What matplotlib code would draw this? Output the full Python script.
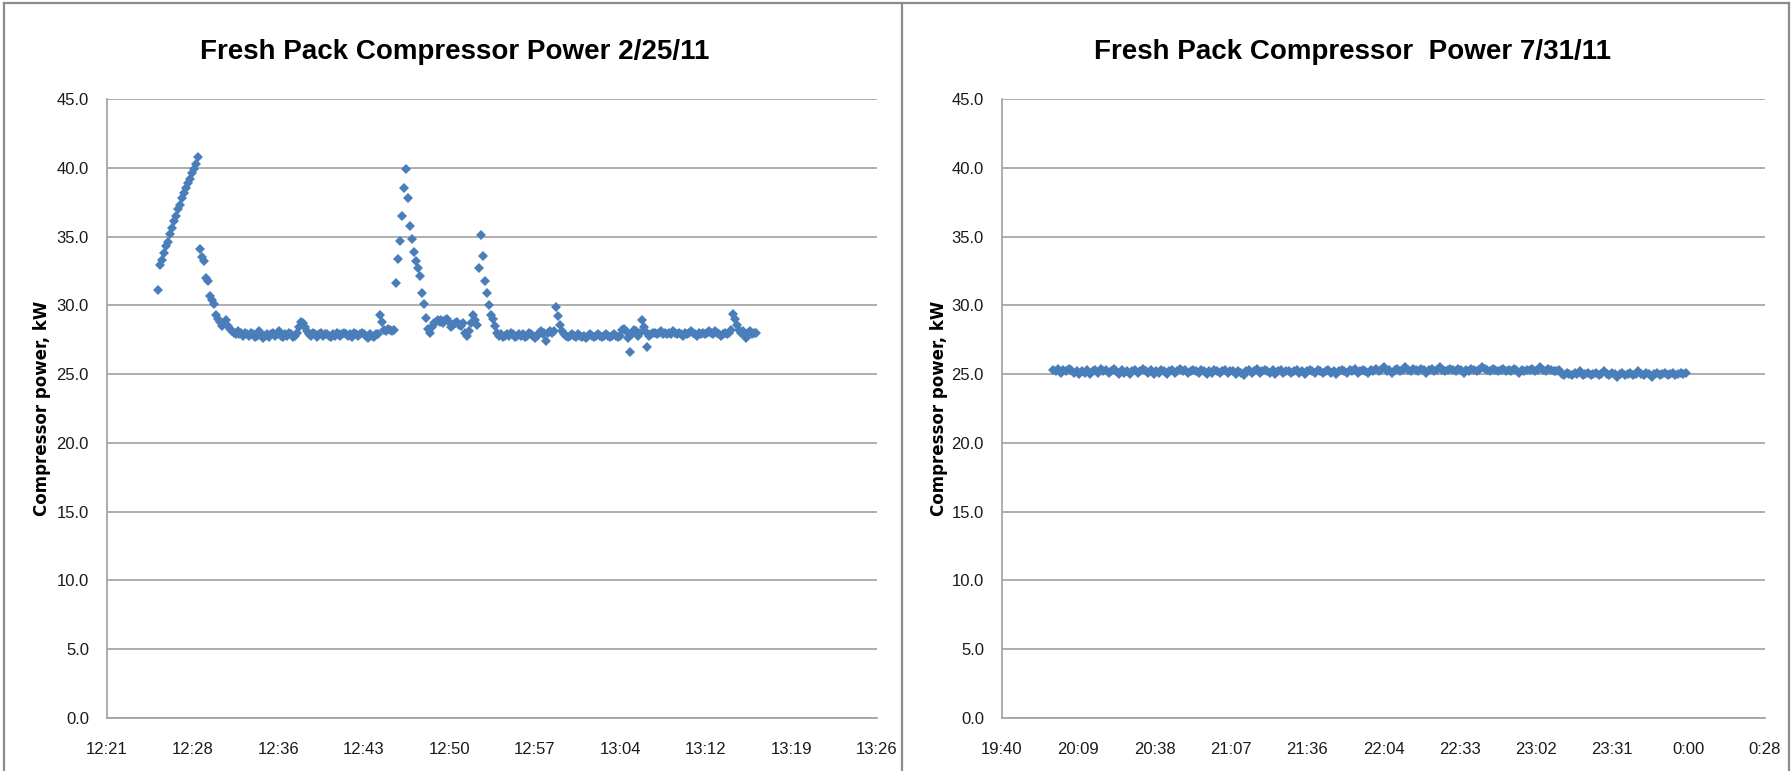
import matplotlib
matplotlib.use("Agg")
import matplotlib.pyplot as plt
from matplotlib import font_manager
from matplotlib.lines import Line2D
import numpy as np

# ---------------- data ----------------
left_title = "Fresh Pack Compressor Power 2/25/11"
right_title = "Fresh Pack Compressor  Power 7/31/11"
ylabel = "Compressor power, kW"

y_ticks = [0, 5, 10, 15, 20, 25, 30, 35, 40, 45]

left_xticks = [0.515, 0.520, 0.525, 0.530, 0.535, 0.540, 0.545, 0.550, 0.555, 0.560]
left_xlabels = ["12:21", "12:28", "12:36", "12:43", "12:50", "12:57",
                "13:04", "13:12", "13:19", "13:26"]
right_xticks = [0.82, 0.84, 0.86, 0.88, 0.90, 0.92, 0.94, 0.96, 0.98, 1.00, 1.02]
right_xlabels = ["19:40", "20:09", "20:38", "21:07", "21:36", "22:04",
                 "22:33", "23:02", "23:31", "0:00", "0:28"]

# Left series: 10-second samples starting 12:25:55
left_start_sec = 12 * 3600 + 25 * 60 + 55
left_step_sec = 10
left_kw = [
    31.1,
    32.9, 33.3, 33.8, 34.3, 34.6, 35.2, 35.6, 36.1, 36.5, 37.0,
    37.3, 37.8, 38.2, 38.5, 38.9, 39.2, 39.6, 39.9, 40.3, 40.8,
    34.1, 33.5, 33.2, 32.0, 31.8, 30.7, 30.4, 30.1, 29.3, 29.0,
    28.8, 28.5, 28.7, 28.9, 28.5, 28.3,
    28.1, 28.0, 27.9, 28.1, 27.9, 28.0, 27.8, 28.0, 27.9, 27.8,
    28.0, 27.9, 27.7, 27.8, 28.1, 27.9, 27.6, 27.8, 27.9, 27.7,
    27.9, 28.0, 27.8, 27.9, 28.1, 27.8, 27.7, 27.9, 27.8, 28.0,
    27.9, 27.7, 27.8, 28.0,
    28.4, 28.8, 28.7, 28.4, 28.1,
    27.9, 27.8, 28.0, 27.9, 27.7, 27.9, 28.0, 27.8, 27.9, 27.9,
    27.8, 27.7, 27.9, 27.8, 28.0, 27.9, 27.8, 27.9, 28.0, 27.9,
    27.8, 27.9, 27.7, 28.0, 27.9, 27.8, 27.9, 28.0, 27.9, 27.8,
    27.6, 27.9, 27.8, 27.7, 27.9,
    27.9, 29.3, 28.8, 28.2, 28.1, 28.3, 28.2, 28.1, 28.2,
    31.6, 33.4, 34.7, 36.5, 38.5, 39.9, 37.8, 35.8, 34.8, 33.9,
    33.2, 32.7, 32.1, 30.9, 30.1, 29.1, 28.3, 28.0,
    28.4, 28.7, 28.8, 28.9, 28.8, 28.9, 28.7, 28.9, 29.0, 28.8,
    28.4, 28.6, 28.7, 28.8, 28.6, 28.5, 28.7, 28.0, 27.8, 28.1,
    28.7, 29.3, 28.9, 28.6,
    32.7, 35.1, 33.6, 31.8, 30.9, 30.0, 29.3, 29.0, 28.5, 28.0,
    27.8, 27.9, 27.7, 27.8, 27.9, 27.8, 28.0, 27.9, 27.7, 27.8,
    27.9, 27.8, 27.9, 27.7, 27.8, 28.0, 27.9, 27.8, 27.6, 27.8,
    28.0, 28.1, 27.9, 28.0,
    27.4, 28.0, 28.1, 28.0, 28.1, 29.9, 29.2, 28.6, 28.1, 27.9,
    27.8, 27.7, 27.8, 27.9, 27.8, 27.7, 27.9, 27.8, 27.7, 27.8,
    27.6, 27.8, 27.9, 27.8, 27.7, 27.8, 27.9, 27.8, 27.7, 27.8,
    27.9, 27.8, 27.7, 27.8, 27.9, 27.8, 27.7, 27.8,
    28.2, 28.3, 28.1, 27.6, 26.6, 27.9, 28.2, 28.1, 27.8, 28.0,
    28.9, 28.4, 28.1, 27.0, 27.8, 27.9, 28.0,
    28.0, 27.9, 28.0, 28.1, 27.9, 28.0, 27.9, 28.0, 27.9, 28.1,
    28.0, 27.9, 28.0, 27.9, 27.8, 28.0, 27.9, 28.0, 28.1, 28.0,
    27.9, 27.8, 28.0, 27.9, 28.0, 27.9, 28.0, 28.1, 28.0, 27.9,
    28.1, 28.0, 27.9, 27.8, 27.9, 28.0, 27.9, 28.0,
    28.2, 29.4, 29.0, 28.6, 28.2, 28.0, 28.1, 27.9, 27.6, 28.0,
    28.1, 27.9, 28.0, 28.0,
]

# Right series: 1-minute samples starting 20:00
right_start_sec = 20 * 3600
right_step_sec = 60
right_kw = [
    25.3, 25.2, 25.4, 25.1, 25.3, 25.2, 25.4, 25.3, 25.1, 25.2,
    25.0, 25.2, 25.1, 25.3, 25.0, 25.2, 25.3, 25.1, 25.4, 25.2,
    25.3, 25.1, 25.2, 25.4, 25.2, 25.0, 25.3, 25.1, 25.2, 25.0,
    25.2, 25.3, 25.1, 25.2, 25.4, 25.2, 25.1, 25.3, 25.0, 25.2,
    25.1, 25.3, 25.2, 25.0, 25.2, 25.3, 25.1, 25.2, 25.4, 25.2,
    25.3, 25.1, 25.2, 25.3, 25.2, 25.1, 25.3, 25.2, 25.0, 25.2,
    25.1, 25.3, 25.2, 25.1, 25.2, 25.3, 25.1, 25.2, 25.2, 25.0,
    25.2, 25.1, 24.9, 25.2, 25.3, 25.1, 25.2, 25.4, 25.1, 25.2,
    25.3, 25.2, 25.1, 25.3, 25.0, 25.2, 25.3, 25.1, 25.2, 25.2,
    25.1, 25.2, 25.3, 25.1, 25.2, 25.0, 25.2, 25.3, 25.2, 25.1,
    25.3, 25.2, 25.1, 25.2, 25.3, 25.1, 25.2, 25.0, 25.2, 25.3,
    25.2, 25.1, 25.3, 25.2, 25.4, 25.1, 25.2, 25.3, 25.2, 25.1,
    25.3, 25.2, 25.4, 25.2, 25.3, 25.5, 25.2, 25.3, 25.1, 25.3,
    25.4, 25.2, 25.3, 25.5, 25.3, 25.2, 25.4, 25.3, 25.2, 25.4,
    25.3, 25.1, 25.3, 25.4, 25.2, 25.3, 25.5, 25.3, 25.2, 25.3,
    25.4, 25.3, 25.2, 25.4, 25.3, 25.1, 25.3, 25.2, 25.4, 25.3,
    25.2, 25.3, 25.5, 25.4, 25.3, 25.2, 25.4, 25.3, 25.2, 25.3,
    25.4, 25.2, 25.3, 25.2, 25.4, 25.3, 25.1, 25.3, 25.2, 25.3,
    25.3, 25.4, 25.2, 25.3, 25.5, 25.3, 25.2, 25.4, 25.3, 25.2,
    25.2, 25.3,
    25.0, 24.9, 25.1, 25.0, 24.9, 25.1, 25.0, 25.2, 24.9, 25.0,
    25.1, 24.9, 25.0, 25.1, 24.9, 25.0, 25.2, 25.0, 24.9, 25.1,
    25.0, 24.8, 25.0, 25.1, 24.9, 25.0, 25.1, 24.9, 25.0, 25.2,
    25.0, 24.9, 25.1, 25.0, 24.8, 25.0, 25.1, 24.9, 25.0, 25.1,
    24.9, 25.0, 25.1, 24.9, 25.0, 25.1, 25.0, 25.1,
]

# ---------------- fonts ----------------
names = {f.name for f in font_manager.fontManager.ttflist}
if "Liberation Sans Narrow" in names:
    narrow = ["Liberation Sans Narrow", "DejaVu Sans"]
    title_fs, tick_fs = 26, 14.5
else:
    narrow = ["Liberation Sans", "DejaVu Sans"]
    title_fs, tick_fs = 20, 12

marker_color = "#4A7EBB"
grid_color = "#A0A0A0"
text_color = "#1a1a1a"

W, H = 1791, 771
fig = plt.figure(figsize=(W / 100, H / 100), dpi=100)


def fx(px):
    return px / W


def fy(py):
    return 1 - py / H


# outer frames
frame_kw = dict(color="#8c8c8c", linewidth=1.6, transform=fig.transFigure)
fig.add_artist(Line2D([fx(4), fx(4)], [0, fy(3)], **frame_kw))
fig.add_artist(Line2D([fx(4), fx(1789)], [fy(3), fy(3)], **frame_kw))
fig.add_artist(Line2D([fx(902), fx(902)], [0, fy(3)], **frame_kw))
fig.add_artist(Line2D([fx(1789), fx(1789)], [0, fy(3)], **frame_kw))

ax_y0, ax_y1 = 718, 99
panels = [
    dict(x0=107, x1=877, start=left_start_sec, step=left_step_sec, kw=left_kw,
         xt=left_xticks, xl=left_xlabels, title=left_title, tx=455,
         xlim=(0.515, 0.560), ylab_x=42, ms=4.6),
    dict(x0=1002, x1=1765, start=right_start_sec, step=right_step_sec, kw=right_kw,
         xt=right_xticks, xl=right_xlabels, title=right_title, tx=1352,
         xlim=(0.82, 1.02), ylab_x=939, ms=5.0),
]

for p in panels:
    ax = fig.add_axes([fx(p["x0"]), fy(ax_y0), fx(p["x1"] - p["x0"]),
                       (ax_y0 - ax_y1) / H])
    n = len(p["kw"])
    x = (p["start"] + np.arange(n) * p["step"]) / 86400.0
    ax.plot(x, p["kw"], linestyle="none", marker="D", markersize=p["ms"],
            color=marker_color, markeredgewidth=0, zorder=3)
    ax.set_xlim(*p["xlim"])
    ax.set_ylim(0, 45)
    ax.set_yticks(y_ticks)
    ax.set_yticklabels([f"{v:.1f}" for v in y_ticks], family=narrow,
                       fontsize=tick_fs, color=text_color)
    ax.set_xticks(p["xt"])
    ax.set_xticklabels(p["xl"], family=narrow, fontsize=tick_fs, color=text_color)
    ax.tick_params(axis="both", length=0)
    ax.tick_params(axis="x", pad=17)
    ax.tick_params(axis="y", pad=13)
    ax.yaxis.grid(True, color=grid_color, linewidth=1.2)
    ax.set_axisbelow(True)
    for s in ["top", "right"]:
        ax.spines[s].set_visible(False)
    ax.spines["left"].set_color(grid_color)
    ax.spines["bottom"].set_color(grid_color)
    ax.spines["left"].set_linewidth(1.2)
    ax.spines["bottom"].set_linewidth(1.2)
    fig.text(fx(p["tx"]), fy(52), p["title"], ha="center", va="center",
             family=narrow, fontsize=title_fs, fontweight="bold", color="black")
    fig.text(fx(p["ylab_x"]), fy(408), ylabel, rotation=90, ha="center",
             va="center", family="DejaVu Sans", fontsize=12, fontweight="bold",
             color="black")

fig.savefig("out.png", dpi=100)
